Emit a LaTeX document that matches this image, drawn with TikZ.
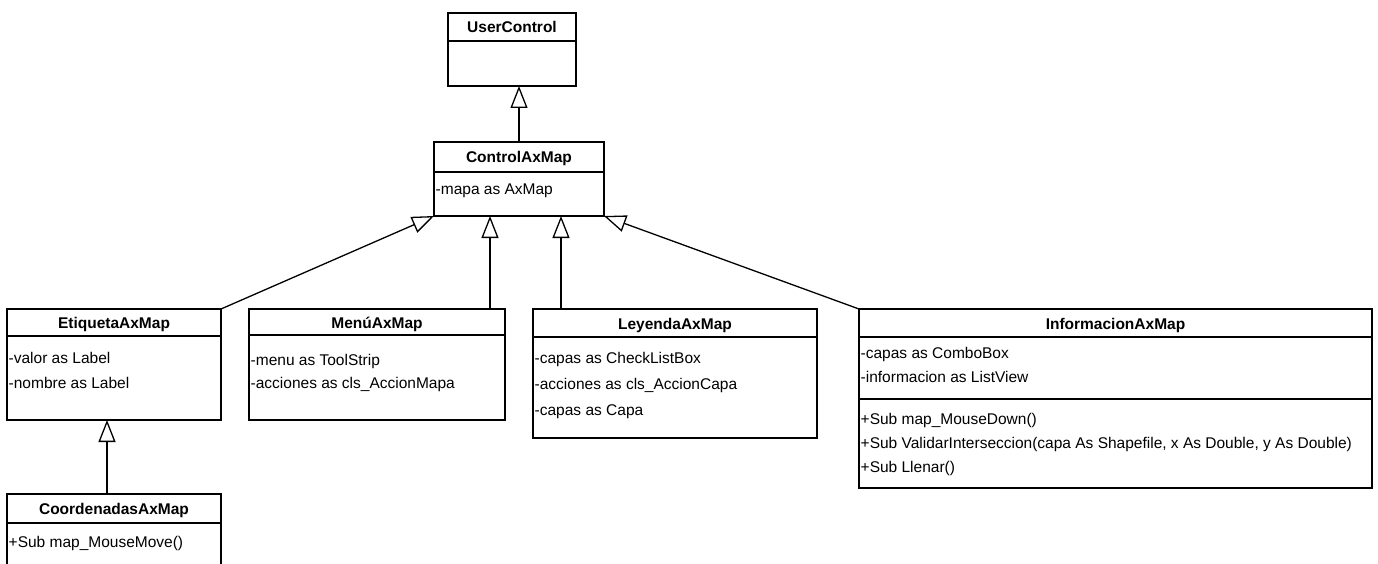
\documentclass[tikz,border=0pt]{standalone}
\usepackage{fontspec}
\setmainfont{Liberation Sans}
\usetikzlibrary{arrows.meta,calc}
\begin{document}
\begin{tikzpicture}[x=1pt,y=-1pt,
  classbox/.style={draw, line width=1.3pt, inner sep=0pt, outer sep=0pt, anchor=north west},
  classname/.style={font=\fontsize{15.5}{18}\selectfont\bfseries, inner sep=0pt, anchor=base},
  member/.style={font=\fontsize{15.5}{18}\selectfont, inner sep=0pt, anchor=base west},
  divider/.style={line width=1.3pt},
  inherit/.style={line width=1.3pt, -{Triangle[open, length=22pt, width=17pt, line width=1.3pt]}}]
\useasboundingbox (0,0) rectangle (1378,564);
\clip (0,0) rectangle (1378,564);

% UserControl
\node[classbox, minimum width=128pt, minimum height=73pt] (uc) at (448,13) {};
\node[classname] (ucT) at (512,33) {UserControl};
\draw[divider] (448,41) -- (576,41);

% ControlAxMap
\node[classbox, minimum width=170pt, minimum height=74pt] (ctl) at (434,142) {};
\node[classname] (ctlT) at (519,163) {ControlAxMap};
\draw[divider] (434,172) -- (604,172);
\node[member] (ctlA) at (435.5,195) {-mapa as AxMap};

% EtiquetaAxMap
\node[classbox, minimum width=214pt, minimum height=111pt] (etq) at (7,309) {};
\node[classname] (etqT) at (114,328) {EtiquetaAxMap};
\draw[divider] (7,336) -- (221,336);
\node[member] (etqA) at (8.5,363) {-valor as Label};
\node[member] (etqB) at (8.5,388) {-nombre as Label};

% MenúAxMap
\node[classbox, minimum width=256pt, minimum height=111pt] (menu) at (249,309) {};
\node[classname] (menuT) at (377,328) {MenúAxMap};
\draw[divider] (249,335) -- (505,335);
\node[member] (menuA) at (250.5,365) {-menu as ToolStrip};
\node[member] (menuB) at (250.5,388) {-acciones as cls\_AccionMapa};

% LeyendaAxMap
\node[classbox, minimum width=284pt, minimum height=129pt] (ley) at (533,309) {};
\node[classname] (leyT) at (675,329) {LeyendaAxMap};
\draw[divider] (533,337) -- (817,337);
\node[member] (leyA) at (534.5,363) {-capas as CheckListBox};
\node[member] (leyB) at (534.5,389) {-acciones as cls\_AccionCapa};
\node[member] (leyC) at (534.5,415) {-capas as Capa};

% InformacionAxMap
\node[classbox, minimum width=513pt, minimum height=179pt] (info) at (859,309) {};
\node[classname] (infoT) at (1115.5,329) {InformacionAxMap};
\draw[divider] (859,337) -- (1372,337);
\node[member] (infoA) at (860.5,358) {-capas as ComboBox};
\node[member] (infoB) at (860.5,382) {-informacion as ListView};
\draw[divider] (859,399) -- (1372,399);
\node[member] (infoC) at (860.5,424) {+Sub map\_MouseDown()};
\node[member] (infoD) at (860.5,448) {+Sub ValidarInterseccion(capa As Shapefile, x As Double, y As Double)};
\node[member] (infoE) at (860.5,472) {+Sub Llenar()};

% CoordenadasAxMap (continues past the lower edge)
\node[classbox, minimum width=214pt, minimum height=106pt] (coord) at (7,494) {};
\node[classname] (coordT) at (114,514) {CoordenadasAxMap};
\draw[divider] (7,523) -- (221,523);
\node[member] (coordA) at (8.5,547) {+Sub map\_MouseMove()};

% attachment points of the vertical generalisations
\coordinate (menuUp) at ($(menu.north east)+(-15,0)$);
\coordinate (leyUp) at ($(ley.north west)+(28,0)$);
\coordinate (coordUp) at ($(coord.north west)+(100,0)$);

% generalisations
\draw[inherit] (ctl.north) -- (ctl.north |- uc.south);
\draw[inherit] (etq.north east) -- (ctl.south west);
\draw[inherit] (menuUp) -- (menuUp |- ctl.south);
\draw[inherit] (leyUp) -- (leyUp |- ctl.south);
\draw[inherit] (info.north west) -- (ctl.south east);
\draw[inherit] (coordUp) -- (coordUp |- etq.south);
\end{tikzpicture}
\end{document}
